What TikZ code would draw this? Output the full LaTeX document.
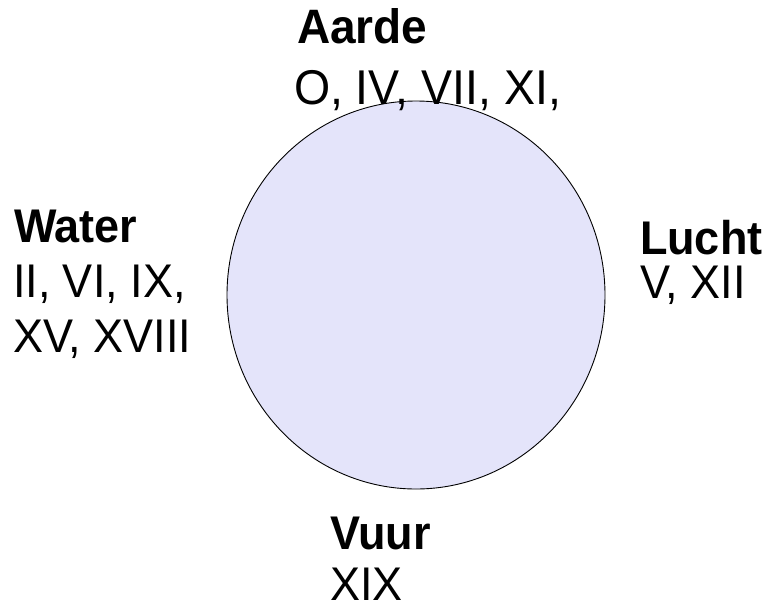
\documentclass[tikz,border=0pt]{standalone}
\usepackage{graphicx}
\usepackage{fontspec}
\setmainfont{Liberation Sans}
\newcommand{\tallt}[1]{\scalebox{1}[1.05]{#1}}
\begin{document}
\begin{tikzpicture}[x=1pt,y=-1pt,
  lbl/.style={anchor=base west, inner sep=0pt, outer sep=0pt, font=\fontsize{45}{56}\selectfont},
  head/.style={lbl, font=\fontsize{45}{56}\selectfont\bfseries}]
\useasboundingbox (0,0) rectangle (771,608);
\fill[white] (0,0) rectangle (771,608);
\draw[fill={rgb,255:red,228;green,228;blue,250}, line width=0.9pt] (416,295) ellipse [x radius=189, y radius=194];
% Aarde
\node[head, font=\fontsize{46}{56}\selectfont\bfseries] (aarde) at (297,43) {\tallt{Aarde}};
\node[lbl, font=\fontsize{46.5}{56}\selectfont] (aarde1) at (294,104) {\tallt{O, IV, VII, XI,}};
% Water
\node[head] (water) at (14,242) {\tallt{Water}};
\node[lbl] (water1) at (13,297) {\tallt{II, VI, IX,}};
\node[lbl] (water2) at (13,352) {\tallt{XV, XVIII}};
% Lucht
\node[head] (lucht) at (640,254) {\tallt{Lucht}};
\node[lbl] (lucht1) at (640,298) {\tallt{V, XII}};
% Vuur
\node[head] (vuur) at (330,549) {\tallt{Vuur}};
\node[lbl] (vuur1) at (330,600) {\tallt{XIX}};
\end{tikzpicture}
\end{document}
